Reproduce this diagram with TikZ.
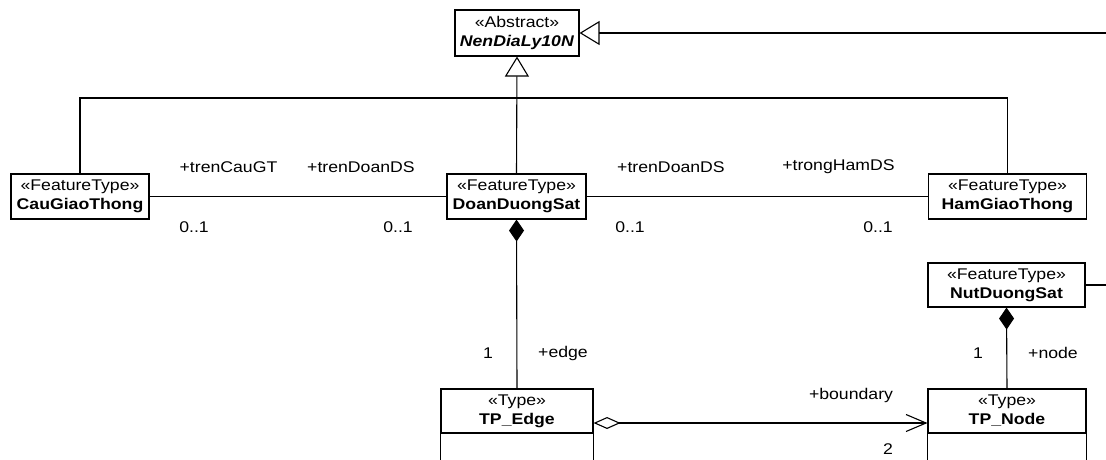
\documentclass[tikz,border=0pt]{standalone}
\usepackage{fontspec}
\setmainfont[FakeStretch=1.14]{Liberation Sans}
\usetikzlibrary{arrows.meta}
\newcommand\diafont{\fontsize{15.5}{19}\selectfont}
\begin{document}
\begin{tikzpicture}[x=1pt,y=-1pt,
  cls/.style={draw, line width=1.1pt, align=center, inner sep=0pt, font=\diafont},
  lbl/.style={inner sep=0pt, font=\diafont},
  ln/.style={line width=1.1pt},
  gen/.style={ln, -{Triangle[open,length=20pt,width=24pt]}},
  comp/.style={ln, {Diamond[length=22pt,width=15pt]}-},
  aggr/.style={ln, {Diamond[open,length=27pt,width=12pt]}-{Straight Barb[length=20pt,width=17pt]}}]
\fill[white] (0,0) rectangle (1106,459);
\useasboundingbox (0,0) rectangle (1106,459);

% classes
\node[cls, minimum width=124, minimum height=46] (nen) at (517,33) {«Abstract»\\\textbf{\textit{NenDiaLy10N}}};
\node[cls, minimum width=138, minimum height=45] (cau) at (80,196.5) {«FeatureType»\\\textbf{CauGiaoThong}};
\node[cls, minimum width=139, minimum height=45] (doan) at (516.5,196.5) {«FeatureType»\\\textbf{DoanDuongSat}};
\node[cls, minimum width=158, minimum height=45] (ham) at (1007.5,196.5) {«FeatureType»\\\textbf{HamGiaoThong}};
\node[cls, minimum width=157, minimum height=44] (nut) at (1006.5,285) {«FeatureType»\\\textbf{NutDuongSat}};
\node[cls, minimum width=152, minimum height=44] (edge) at (517,411) {«Type»\\\textbf{TP\_Edge}};
\node[cls, minimum width=158, minimum height=44] (tpn) at (1007,411) {«Type»\\\textbf{TP\_Node}};

% lower compartments (cut by the page edge)
\draw[ln] (edge.south west) -- ++(0,30);
\draw[ln] (edge.south east) -- ++(0,30);
\draw[ln] (tpn.south west) -- ++(0,30);
\draw[ln] (tpn.south east) -- ++(0,30);

% generalization
\coordinate (j) at (517,98);
\draw[ln] (cau.north) |- (j) -| (ham.north);
\draw[gen] (doan.north) -- (nen.south);
\coordinate (r1) at (1106,33);
\draw[gen] (r1) -- (nen.east);

% associations
\draw[ln] (cau.east) -- (doan.west);
\draw[ln] (doan.east) -- (ham.west);

% compositions
\draw[comp] (doan.south) -- (edge.north);
\draw[comp] (nut.south) -- (tpn.north);
\coordinate (r2) at (1106,285);
\draw[ln] (nut.east) -- (r2);

% aggregation
\draw[aggr] ([yshift=-12pt]edge.east) -- ([yshift=-12pt]tpn.west);

% labels
\node[lbl] (a1) at (228.5,167) {+trenCauGT};
\node[lbl] (a2) at (361,167) {+trenDoanDS};
\node[lbl] (m1) at (194,227) {0..1};
\node[lbl] (m2) at (398,227) {0..1};
\node[lbl] (a3) at (671,167) {+trenDoanDS};
\node[lbl] (a4) at (838.5,167) {+trongHamDS};
\node[lbl] (m3) at (630,227) {0..1};
\node[lbl] (m4) at (878,227) {0..1};
\node[lbl] (m5) at (488,353) {1};
\node[lbl] (a5) at (563,353) {+edge};
\node[lbl] (m6) at (978,353) {1};
\node[lbl] (a6) at (1053,353) {+node};
\node[lbl] (a7) at (851,395) {+boundary};
\node[lbl] (m7) at (888,449) {2};
\end{tikzpicture}
\end{document}
